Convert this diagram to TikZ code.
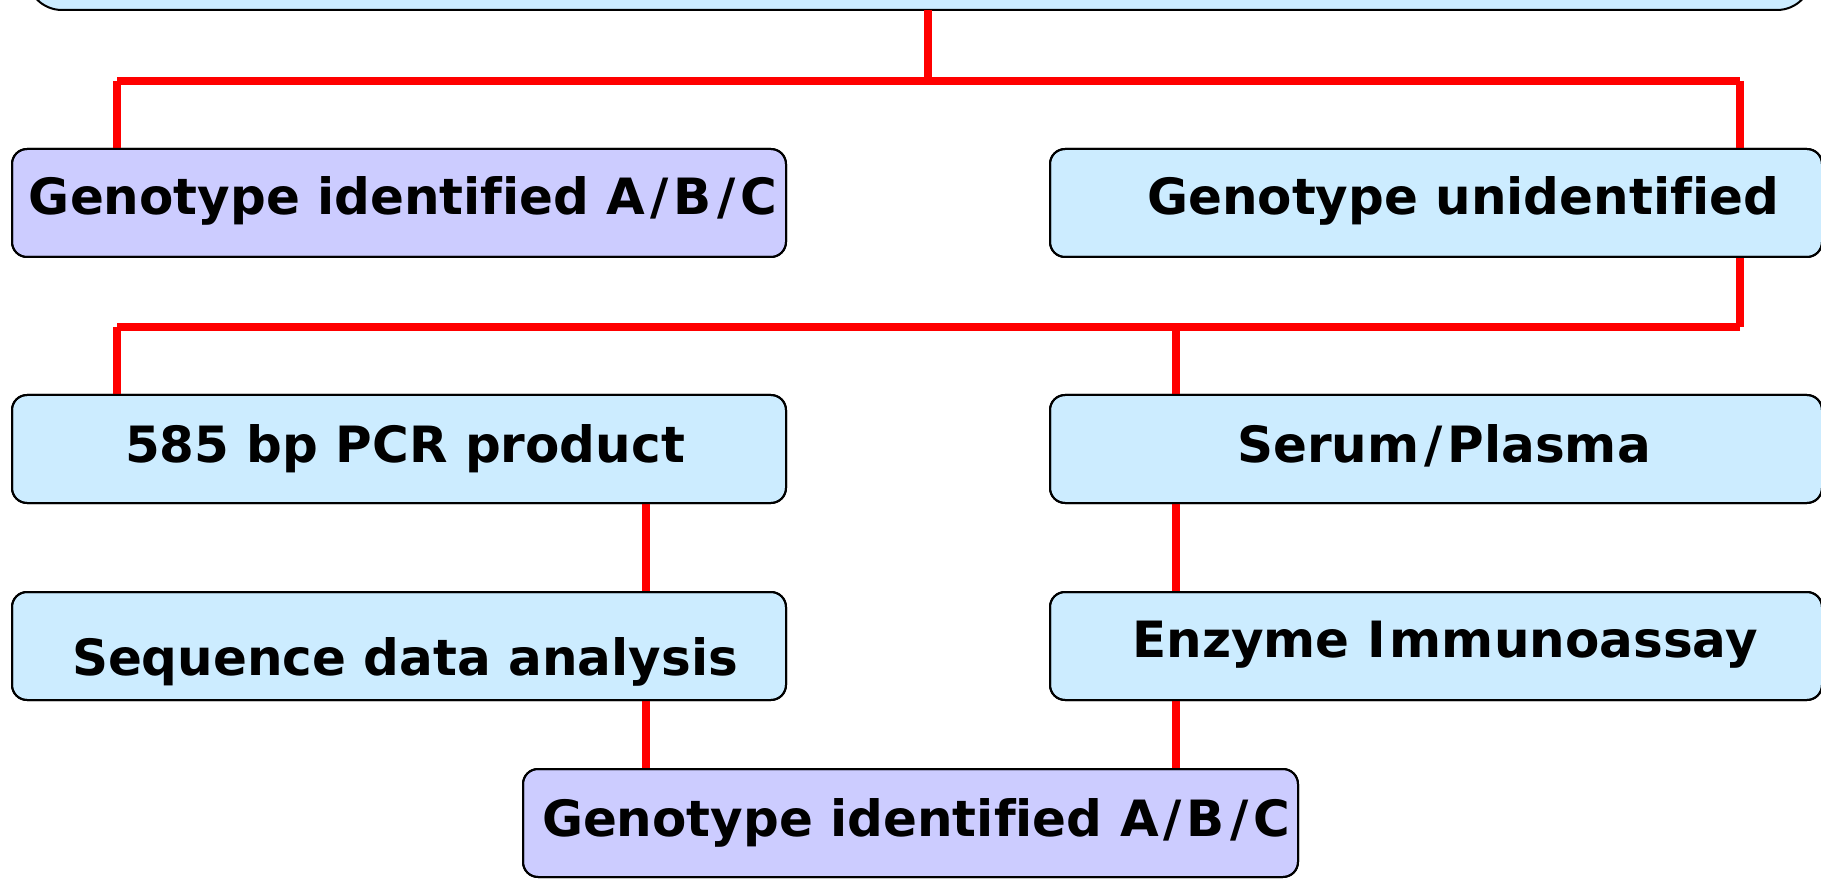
\documentclass[tikz,border=0pt]{standalone}
\usepackage{fontspec}
\setmainfont{DejaVu Sans}[Ligatures=NoCommon]
\definecolor{boxblue}{RGB}{204,236,255}
\definecolor{boxpurple}{RGB}{204,204,255}
\definecolor{linkred}{RGB}{255,0,0}
\newcommand{\wideslash}{\kern5pt/\kern5pt}
\tikzset{
  shapebox/.style={draw=black, line width=2pt, rounded corners=15pt, inner sep=0pt, outer sep=0pt, minimum height=108pt},
  bluebox/.style={shapebox, fill=boxblue},
  purplebox/.style={shapebox, fill=boxpurple},
  lbl/.style={inner sep=0pt, outer sep=0pt, anchor=base, font=\fontsize{50}{60}\selectfont\bfseries},
  link/.style={draw=linkred, line width=8pt}
}
\begin{document}
\begin{tikzpicture}[x=1pt,y=-1pt]
\useasboundingbox (0,0) rectangle (1821,882);
\clip (0,0) rectangle (1821,882);
% boxes
\node[bluebox, rounded corners=35pt, minimum width=1785pt, minimum height=200pt] (top) at (919.5,-90) {};
\node[purplebox, minimum width=774pt] (L1) at (399,203) {};
\node[bluebox, minimum width=772pt] (R1) at (1436,203) {};
\node[bluebox, minimum width=774pt] (L2) at (399,449) {};
\node[bluebox, minimum width=772pt] (R2) at (1436,449) {};
\node[bluebox, minimum width=774pt] (L3) at (399,646) {};
\node[bluebox, minimum width=772pt] (R3) at (1436,646) {};
\node[purplebox, minimum width=775pt] (B) at (910.5,823) {};
% junction coordinates
\coordinate (j1) at (928,81);
\coordinate (j1l) at (117,81);
\coordinate (j1r) at (1740,81);
\coordinate (j2) at (1740,327);
\coordinate (j2l) at (117,327);
\coordinate (j2m) at (1176,327);
\coordinate (cl) at (646,0);
\coordinate (cr) at (1176,0);
% connectors
\draw[link] (top.south -| j1) -- (j1);
\draw[link] (j1l) -- (j1r);
\draw[link] (j1l) -- (L1.north -| j1l);
\draw[link] (j1r) -- (R1.north -| j1r);
\draw[link] (R1.south -| j2) -- (j2);
\draw[link] (j2) -- (j2l);
\draw[link] (j2l) -- (L2.north -| j2l);
\draw[link] (j2m) -- (R2.north -| j2m);
\draw[link] (L2.south -| cl) -- (L3.north -| cl);
\draw[link] (L3.south -| cl) -- (B.north -| cl);
\draw[link] (R2.south -| cr) -- (R3.north -| cr);
\draw[link] (R3.south -| cr) -- (B.north -| cr);
% redraw box outlines over link ends
\foreach \n in {L1,R1,L2,R2,L3,R3,B} {
  \draw[line width=2pt, rounded corners=15pt] (\n.north west) rectangle (\n.south east);
}
% labels
\node[lbl] (t1) at (403,215) {Genotype identified A\wideslash B\wideslash C};
\node[lbl] (t2) at (1463,215) {Genotype unidentified};
\node[lbl] (t3) at (405,463) {585 bp PCR product};
\node[lbl] (t4) at (1444,463) {Serum\wideslash Plasma};
\node[lbl] (t5) at (405,675) {Sequence data analysis};
\node[lbl] (t6) at (1445,657) {Enzyme I\kern4pt mmunoassay};
\node[lbl] (t7) at (916,836) {Genotype identified A\wideslash B\wideslash C};
\end{tikzpicture}
\end{document}
